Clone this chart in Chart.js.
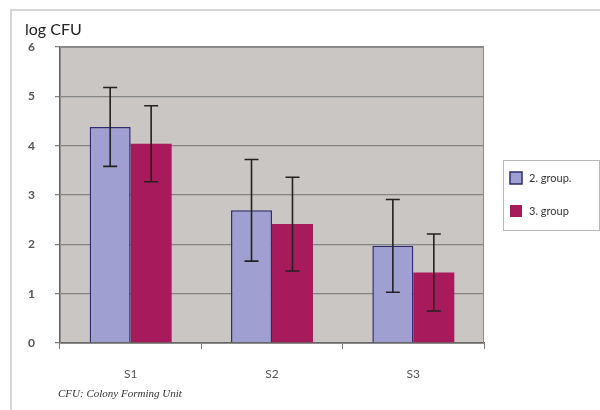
<!DOCTYPE html>
<html lang="en">
<head>
<meta charset="UTF-8">
<script src="https://cdn.jsdelivr.net/npm/chart.js"></script>
<title>log CFU</title>
<style>
  html, body { margin: 0; padding: 0; background: #fff; }
  #wrap { width: 600px; height: 410px; position: relative; }
</style>
</head>
<body>
<div id="wrap"><canvas id="myChart" width="600" height="410"></canvas></div>
<script>
  // data
  const categories = ['S1', 'S2', 'S3'];
  const seriesNames = ['2. group.', '3. group'];
  const group2 = [4.38, 2.69, 1.97];
  const group3 = [4.04, 2.41, 1.43];
  const group2Err = [0.80, 1.03, 0.94];
  const group3Err = [0.77, 0.95, 0.78];
  const yTicks = [0, 1, 2, 3, 4, 5, 6];

  const errors = [group2Err, group3Err];

  // frame, titles and legend
  const decor = {
    id: 'decor',
    beforeDraw(chart) {
      const c = chart.ctx;
      c.save();
      c.fillStyle = '#fff';
      c.fillRect(0, 0, chart.width, chart.height);
      c.strokeStyle = '#d6d6d6';
      c.lineWidth = 2;
      c.beginPath();
      c.moveTo(11, 410);
      c.lineTo(11, 10);
      c.lineTo(600, 10);
      c.stroke();
      const a = chart.chartArea;
      c.fillStyle = '#c9c6c3';
      c.fillRect(a.left, a.top, a.right - a.left, a.bottom - a.top);
      c.restore();
    },
    afterDraw(chart) {
      const c = chart.ctx;
      const a = chart.chartArea;
      c.save();
      // plot border
      c.strokeStyle = '#8c8c8c';
      c.lineWidth = 1;
      c.strokeRect(a.left + 0.5, a.top + 0.5, a.right - a.left - 1, a.bottom - a.top);
      c.fillStyle = '#222';
      c.font = '16px Lato, "Open Sans", sans-serif';
      c.textBaseline = 'alphabetic';
      c.fillText('log CFU', 25, 35);
      c.fillStyle = '#333';
      c.font = 'italic 11px "Liberation Serif", serif';
      c.fillText('CFU: Colony Forming Unit', 58, 397);

      // legend
      c.fillStyle = '#fff';
      c.fillRect(503, 160, 96, 70);
      c.strokeStyle = '#b8b8b8';
      c.strokeRect(503.5, 160.5, 96, 70);
      chart.data.datasets.forEach((ds, i) => {
        const y = 178 + i * 33;
        c.fillStyle = ds.backgroundColor;
        c.fillRect(510, y - 6, 12, 12);
        if (ds.borderWidth) {
          c.strokeStyle = ds.borderColor;
          c.lineWidth = 1.5;
          c.strokeRect(510, y - 6, 12, 12);
        }
        c.fillStyle = '#333';
        c.font = '11px Lato, "Open Sans", sans-serif';
        c.textBaseline = 'middle';
        c.fillText(ds.label, 529, y);
      });
      c.restore();
    }
  };

  // error bars drawn from the bar elements and the y scale
  const errorBars = {
    id: 'errorBars',
    afterDatasetsDraw(chart) {
      const c = chart.ctx;
      const y = chart.scales.y;
      c.save();
      c.strokeStyle = '#222';
      c.lineWidth = 1.6;
      chart.data.datasets.forEach((ds, i) => {
        chart.getDatasetMeta(i).data.forEach((bar, j) => {
          const v = ds.data[j];
          const e = errors[i][j];
          const top = y.getPixelForValue(v + e);
          const bot = y.getPixelForValue(v - e);
          c.beginPath();
          c.moveTo(bar.x, top); c.lineTo(bar.x, bot);
          c.moveTo(bar.x - 7, top); c.lineTo(bar.x + 7, top);
          c.moveTo(bar.x - 7, bot); c.lineTo(bar.x + 7, bot);
          c.stroke();
        });
      });
      c.restore();
    }
  };

  new Chart(document.getElementById('myChart'), {
    type: 'bar',
    data: {
      labels: categories,
      datasets: [{
        label: seriesNames[0],
        data: group2,
        backgroundColor: '#a09fd2',
        borderColor: '#2f2b6e',
        borderWidth: 1.5,
        borderSkipped: 'bottom'
      }, {
        label: seriesNames[1],
        data: group3,
        backgroundColor: '#a71a5c',
        borderWidth: 0
      }]
    },
    options: {
      responsive: false,
      animation: false,
      layout: { padding: { top: 47, right: 116, left: 0, bottom: 0 } },
      datasets: { bar: { barPercentage: 1, categoryPercentage: 0.58 } },
      plugins: { legend: { display: false }, tooltip: { enabled: false } },
      scales: {
        x: {
          afterFit(s) { s.height = 67; },
          grid: { offset: true, drawOnChartArea: false, drawTicks: true, tickLength: 6, color: '#777' },
          border: { color: '#666', width: 1.5 },
          ticks: { color: '#555', padding: 18, font: { family: 'Lato, "Open Sans", sans-serif', size: 12 } }
        },
        y: {
          min: 0, max: 6,
          afterFit(s) { s.width = 60; },
          afterBuildTicks(s) { s.ticks = yTicks.map(v => ({ value: v })); },
          grid: { color: '#858585', lineWidth: 1.3, tickLength: 5 },
          border: { color: '#666', width: 1.5 },
          ticks: { color: '#555', padding: 20, font: { family: 'Lato, "Open Sans", sans-serif', size: 12, weight: 'bold' } }
        }
      }
    },
    plugins: [decor, errorBars]
  });
</script>
</body>
</html>
